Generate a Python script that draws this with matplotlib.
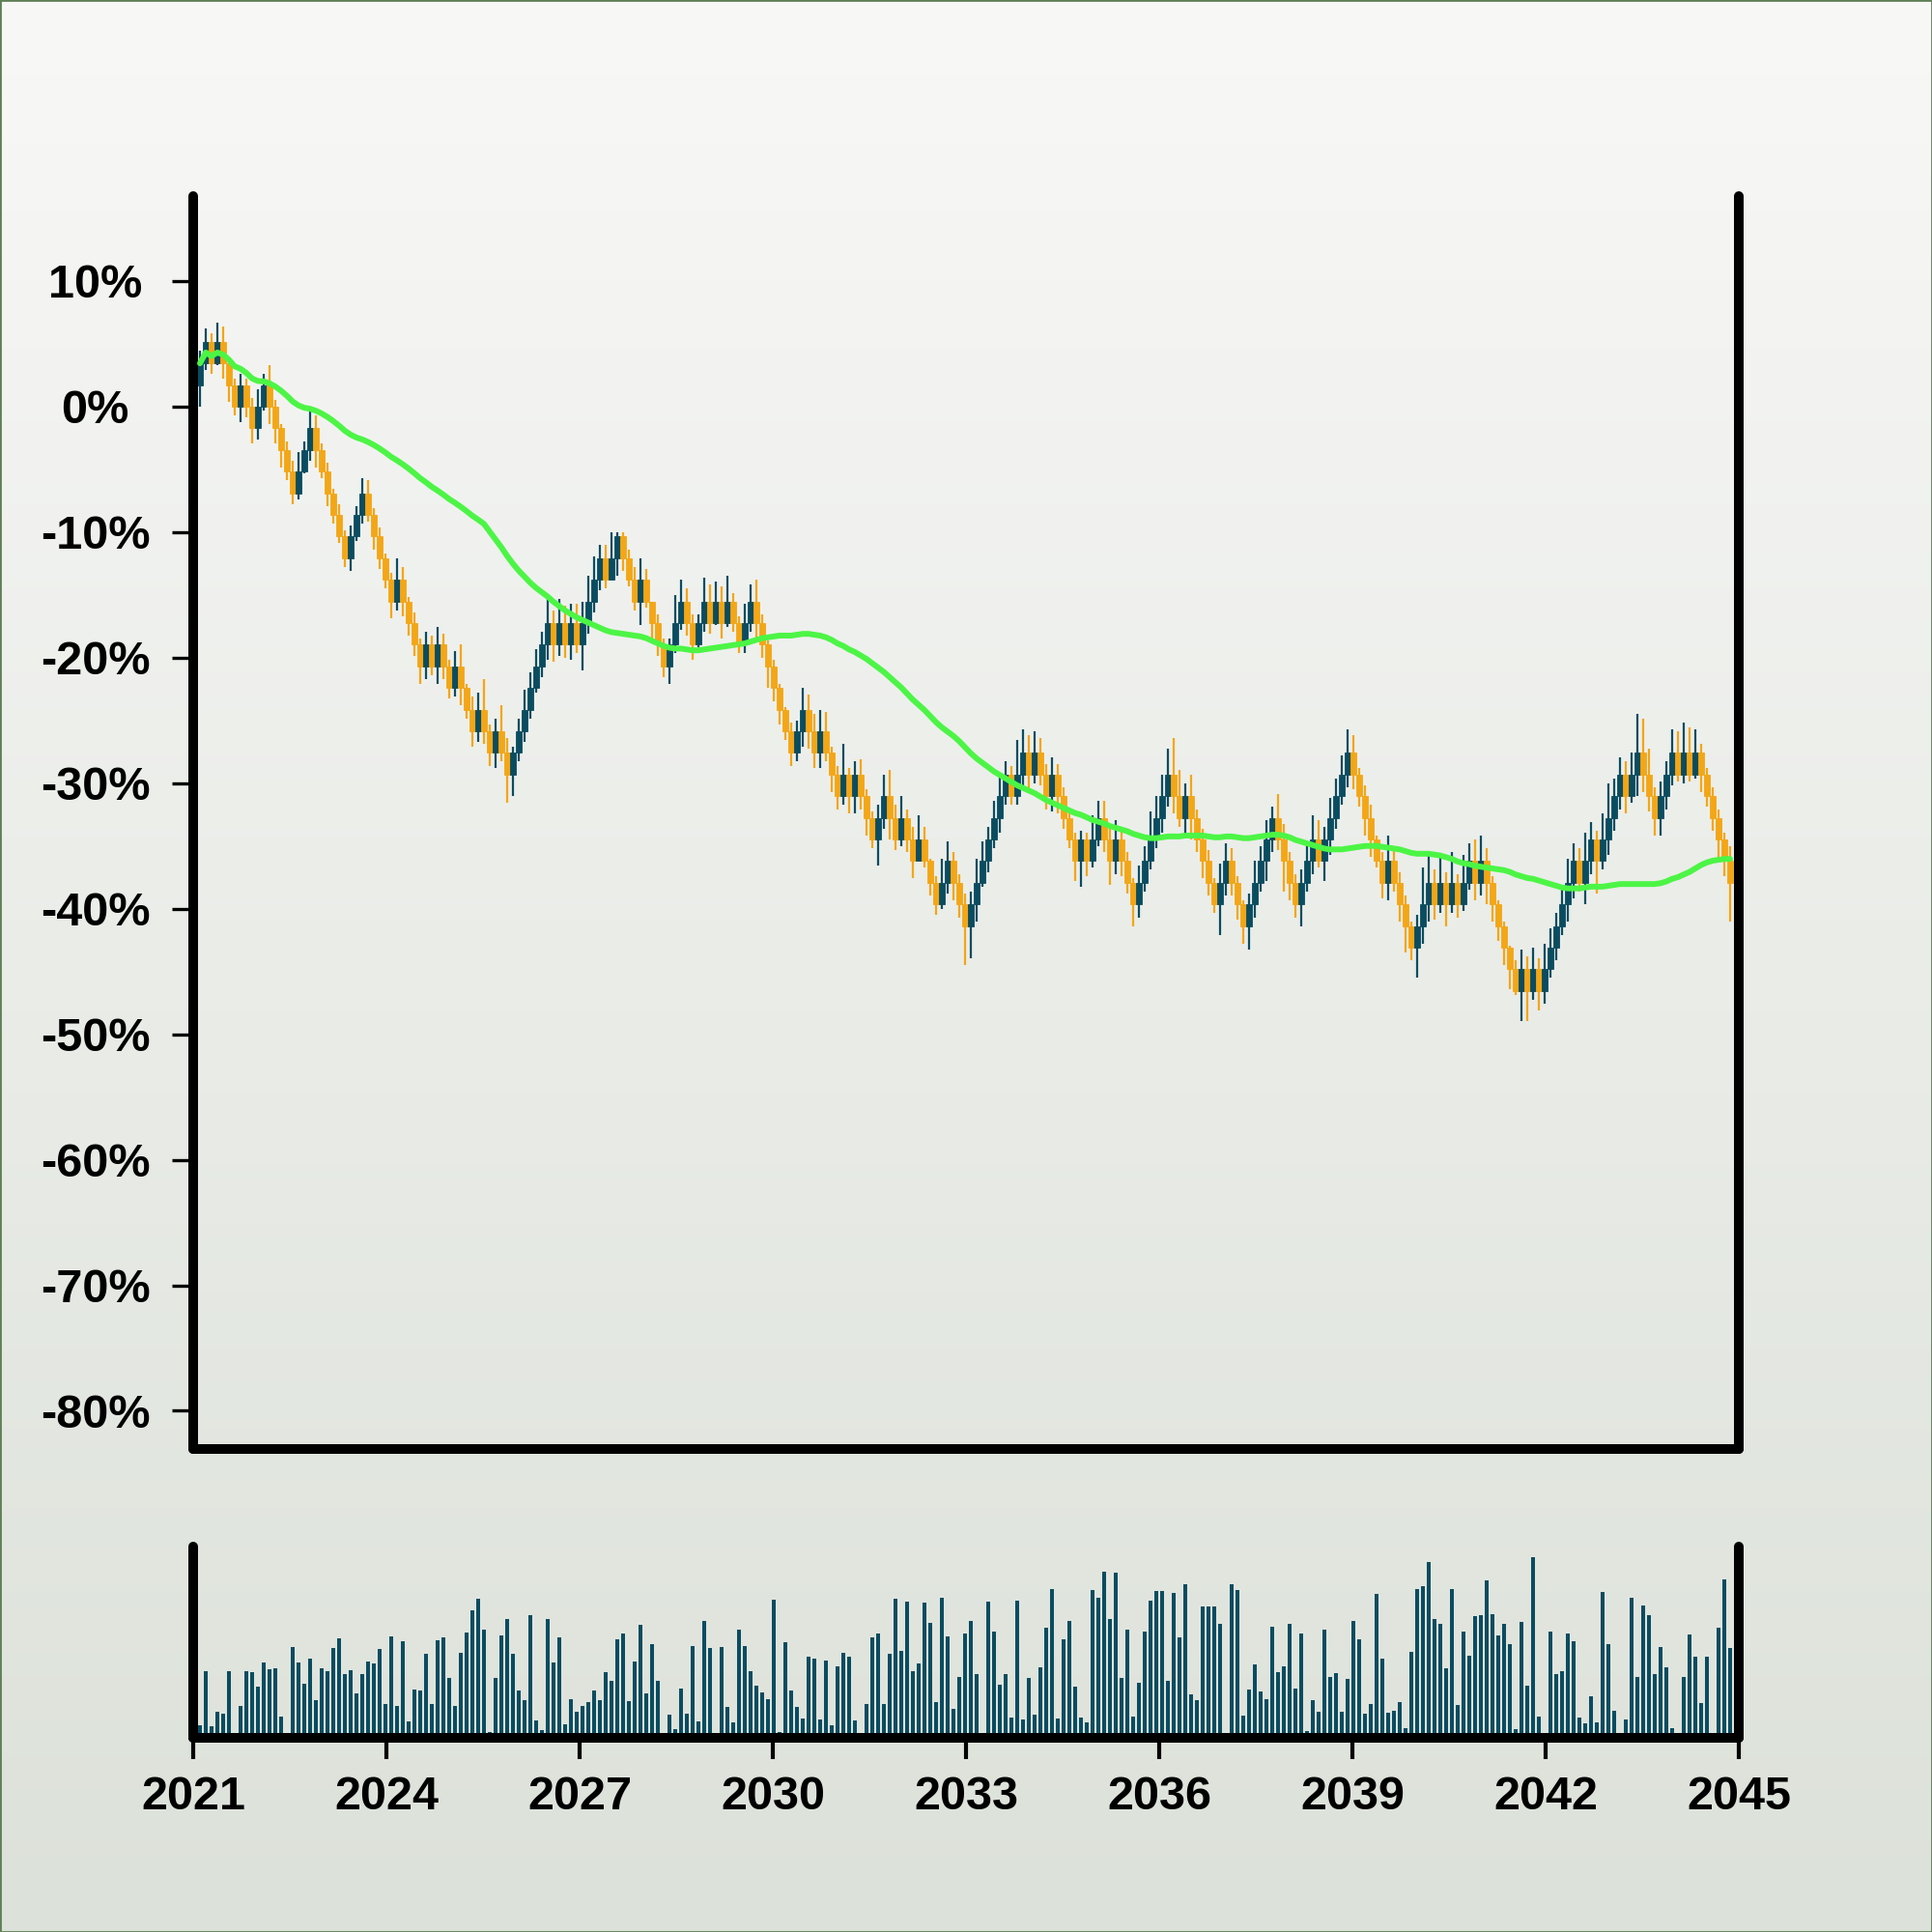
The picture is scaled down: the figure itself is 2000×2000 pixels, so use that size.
import numpy as np
import pandas as pd
import matplotlib
matplotlib.use("Agg")
import matplotlib.pyplot as plt
from matplotlib.patches import Rectangle
from matplotlib.colors import LinearSegmentedColormap

# ---------------- data (prices; 0% reference = BASE_PRICE) ----------------
BASE_PRICE = 58.0

opens = [59,60,61,60,61,60,59,58,59,58, 57,58,59,58,57,56,55,54,55,56, 57,56,55,54,53,52,51,52,53,54,
         53,52,51,50,49,50,49,48,47,46, 47,46,47,46,45,46,45,44,43,44, 43,42,43,
         42,41,42,43,44,45,46,47,48,47, 48,47,48,47,48,49,50,51,50,51, 52,51,50,49,50,49,48,47,46,47,
         48,49,48,47,48,49,48,49,48,49, 48,47,48,49,48,47,46,45,44,43, 42,43,44,
         43,42,43,42,41,40,41,40,41,40, 39,38,39,40,39,38,39,38,37,38, 37,36,35,36,37,36,35,34,35,36,
         37,38,39,40,41,40,41,42,41,42, 41,40,41,40,39,38,37,38,37,38, 39,38,37,
         38,37,36,35,36,37,38,39,40,41, 40,39,40,39,38,37,36,35,36,37, 36,35,34,35,36,37,38,39,38,37,
         36,35,36,37,38,37,38,39,40,41, 42,41,40,39,38,37,36,37,36,35, 34,33,34,
         35,36,35,36,35,36,35,36,37,36, 37,36,35,34,33,32,31,32,31,32, 31,32,33,34,35,36,37,36,37,38,
         37,38,39,40,41,40,41,42,41,40, 39,40,41,42,41,42,41,42,41,40, 39,38,37]

closes = [60,61,60,61,60,59,58,59,58,57, 58,59,58,57,56,55,54,55,56,57, 56,55,54,53,52,51,52,53,54,53,
          52,51,50,49,50,49,48,47,46,47, 46,47,46,45,46,45,44,43,44,43, 42,43,42,
          41,42,43,44,45,46,47,48,47,48, 47,48,47,48,49,50,51,50,51,52, 51,50,49,50,49,48,47,46,47,48,
          49,48,47,48,49,48,49,48,49,48, 47,48,49,48,47,46,45,44,43,42, 43,44,43,
          42,43,42,41,40,41,40,41,40,39, 38,39,40,39,38,39,38,37,38,37, 36,35,36,37,36,35,34,35,36,37,
          38,39,40,41,40,41,42,41,42,41, 40,41,40,39,38,37,38,37,38,39, 38,37,38,
          37,36,35,36,37,38,39,40,41,40, 39,40,39,38,37,36,35,36,37,36, 35,34,35,36,37,38,39,38,37,36,
          35,36,37,38,37,38,39,40,41,42, 41,40,39,38,37,36,37,36,35,34, 33,34,35,
          36,35,36,35,36,35,36,37,36,37, 36,35,34,33,32,31,32,31,32,31, 32,33,34,35,36,37,36,37,38,37,
          38,39,40,41,40,41,42,41,40,39, 40,41,42,41,42,41,42,41,40,39, 38,37,36]

highs = [60.6,61.6,61.4,61.9,61.7,60.2,59.3,59.5,59.3,58.4, 58.8,59.5,59.9,58.3,57.2,56.4,55.5,55.9,56.4,57.8,
         57.6,56.3,55.4,54.2,53.5,52.3,52.5,53.4,54.7,54.6, 53.3,52.4,51.2,50.3,51.0,50.6,49.2,48.5,47.3,47.6,
         47.4,47.8,47.5,46.3,46.7,47.0,45.2,44.6,44.8,45.4, 43.3,43.6,44.2,
         42.7,42.3,43.6,44.9,45.7,46.8,47.6,49.2,48.6,49.1, 48.8,48.9,48.9,49.0,50.2,51.1,51.6,51.6,52.2,52.2,
         52.2,51.4,50.6,51.0,50.5,49.0,48.4,47.3,47.3,49.3, 50.0,49.6,48.4,48.4,50.1,49.8,49.9,49.7,50.2,49.4,
         48.3,48.9,49.8,50.0,48.4,47.2,46.3,45.2,44.1,43.4, 43.5,45.0,44.7,
         43.8,44.0,43.9,42.3,41.4,42.4,41.3,41.6,41.7,40.3, 39.3,39.6,41.0,41.2,39.6,40.0,39.4,38.6,39.1,38.6,
         37.1,36.3,37.1,37.9,37.4,36.4,35.5,35.6,37.1,37.9, 38.6,39.8,41.0,41.6,41.4,42.6,43.1,42.8,43.0,42.7,
         41.5,41.8,41.5,40.4,39.2,38.3,38.4,38.3,39.1,39.8, 39.8,38.6,38.9,
         38.6,37.4,36.2,36.8,37.7,39.3,40.0,41.0,42.2,42.7, 41.2,40.6,41.0,39.4,38.5,37.5,36.2,36.9,37.8,37.6,
         36.3,35.2,35.5,37.0,37.7,38.9,39.5,40.1,38.7,37.4, 36.4,36.6,37.9,39.1,38.9,38.6,39.9,40.8,41.9,43.1,
         42.8,41.3,40.5,39.6,38.2,37.4,38.2,37.7,36.5,35.4, 34.2,34.5,36.7,
         37.3,36.6,37.2,36.5,37.4,36.4,37.3,37.8,38.0,38.2, 37.6,36.3,35.2,34.2,33.1,32.4,32.9,32.6,33.0,32.5,
         33.2,33.9,34.6,35.8,37.1,37.8,37.6,38.3,38.8,38.4, 39.2,40.6,40.8,41.8,41.6,42.0,43.8,43.6,42.2,40.4,
         40.7,41.6,43.1,43.0,43.4,43.2,43.1,42.4,41.3,40.4, 39.4,38.3,37.7]

lows = [58.0,59.7,59.5,59.9,59.3,58.2,57.6,57.3,57.5,56.3, 56.5,57.8,57.2,56.3,55.2,54.6,53.5,53.7,54.9,55.5,
        55.2,54.7,53.4,52.6,51.7,50.6,50.4,51.8,52.6,52.7, 51.4,50.5,49.6,48.2,48.6,48.3,47.4,46.5,45.2,45.4,
        45.6,45.2,45.4,44.5,44.6,44.2,43.6,42.3,42.5,42.4, 41.4,41.3,41.6,
        39.7,40.0,41.6,42.5,43.6,44.8,45.5,46.3,46.2,46.5, 46.4,46.3,46.6,45.8,47.5,48.5,49.5,49.6,50.0,50.2,
        50.4,49.7,48.6,47.9,48.7,47.3,46.5,45.5,45.2,46.6, 47.7,47.4,46.3,46.9,47.6,47.5,47.9,47.3,47.8,47.6,
        46.6,46.6,47.6,47.3,46.4,45.0,44.4,43.3,42.6,41.4, 41.6,42.3,42.2,
        41.3,41.3,41.6,40.2,39.4,39.6,39.2,39.2,39.4,38.2, 37.6,36.8,38.5,38.0,37.5,37.7,37.4,36.2,37.0,36.7,
        35.4,34.5,34.8,35.5,35.2,34.4,32.2,32.5,34.2,35.8, 36.5,37.6,38.3,39.6,39.6,39.6,40.5,40.3,40.6,40.5,
        39.4,39.3,39.2,38.5,37.6,36.1,35.8,36.3,36.7,37.7, 37.4,35.9,36.4,
        36.3,35.5,34.0,34.4,35.6,36.6,37.6,38.3,39.5,39.2, 38.6,38.2,38.0,37.4,36.2,35.4,34.6,33.6,35.4,35.4,
        34.3,33.2,32.9,34.4,35.6,36.1,37.4,37.5,35.6,35.2, 34.4,34.0,35.6,36.4,36.7,36.1,37.3,38.5,39.6,40.4,
        40.3,39.5,38.2,37.2,36.7,35.3,35.2,35.6,34.2,32.8, 32.4,31.6,33.2,
        34.2,34.3,34.6,34.0,34.6,34.4,34.7,35.7,35.2,35.4, 35.0,34.2,33.3,32.2,31.1,30.8,29.6,29.6,30.6,30.1,
        30.4,31.6,32.4,33.6,34.2,35.3,35.6,35.0,36.4,35.5, 36.6,37.3,38.4,39.4,39.2,39.7,40.0,40.2,39.3,38.2,
        38.2,39.4,40.5,40.7,40.6,40.7,40.8,40.2,39.5,38.4, 37.0,36.3,34.2]

volumes = [24,192,22,67,60,192,0,84,192,188, 144,218,198,202,52,0,266,220,153,231,
           102,202,192,263,293,182,196,123,182,222, 217,260,90,300,85,284,37,136,132,247,
           91,289,296,172,83,250,311,382,416,321, 4,171,302,354,246,131,103,367,38,8,
           354,218,296,28,106,67,84,97,131,101, 189,161,291,308,99,222,336,123,275,161,
           0,56,12,139,59,271,36,347,265,0, 266,81,32,321,270,191,148,126,105,414,
           3,281,131,80,44,236,231,41,225,25, 206,250,237,38,0,90,298,308,90,245,
           417,255,408,192,215,405,343,97,419,300, 76,174,310,348,
           182,0,409,315,150,182,47,410,42,170, 57,205,327,446,45,290,347,144,49,32,
           443,420,501,353,498,172,320,50,155,314, 412,440,441,163,435,296,463,121,102,392,
           392,392,338,0,462,443,54,134,212,130, 104,330,188,206,340,138,308,6,101,65,
           321,175,185,66,167,347,290,59,90,432, 230,62,70,95,14,251,447,455,532,354,
           339,202,447,86,315,239,363,366,475,370, 304,339,276,12,344,148,545,50,0,314,
           182,192,309,286,49,31,113,32,438,275, 70,0,42,419,174,396,366,183,266,203,
           16,0,174,305,236,92,237,0,327,476, 263]

year_ticks = [2021, 2024, 2027, 2030, 2033, 2036, 2039, 2042, 2045]
pct_ticks = [10, 0, -10, -20, -30, -40, -50, -60, -70, -80]
MA_WINDOW = 50

# ---------------- styling ----------------
UP = "#0a4c60"
DOWN = "#f3a616"
MA_COLOR = "#4cf545"
plt.rcParams['font.family'] = ['Liberation Sans', 'DejaVu Sans']
plt.rcParams['axes.unicode_minus'] = False

n = len(closes)
x = np.linspace(2021.105, 2044.865, n)
period = x[1] - x[0]

def to_pct(a):
    return (np.asarray(a, dtype=float) / BASE_PRICE - 1.0) * 100.0

o, h, l, c = (to_pct(v) for v in (opens, highs, lows, closes))
is_up = c >= o
cols = np.where(is_up, UP, DOWN)
ma = pd.Series(c).rolling(MA_WINDOW, min_periods=1).mean()

fig = plt.figure(figsize=(20, 20), dpi=100)

# background gradient
bg = fig.add_axes([0, 0, 1, 1], zorder=-10)
cmap = LinearSegmentedColormap.from_list("bg", ["#f8f8f7", "#dce1d9"])
bg.imshow(np.linspace(0, 1, 256)[:, None], aspect="auto", cmap=cmap,
          extent=[0, 1, 0, 1], origin="upper")
bg.axis("off")

SPINE_LW = 7.2
FS = 35

def style_spines(a):
    a.spines['top'].set_visible(False)
    for s in ('left', 'right', 'bottom'):
        a.spines[s].set_linewidth(SPINE_LW)
        a.spines[s].set_color('black')
        a.spines[s].set_capstyle('round')

# main price axes
ax = fig.add_axes([0.1, 0.25, 0.8, 0.6485])
ax.set_facecolor('none')
ax.vlines(x, l, h, colors=cols, linewidth=1.6, zorder=2)
ax.bar(x, np.abs(c - o), bottom=np.minimum(o, c), width=period * 0.95,
       color=cols, edgecolor=cols, linewidth=0.6, zorder=2.5)
ax.plot(x, ma, color=MA_COLOR, lw=4.3, zorder=3, solid_capstyle='round')
ax.set_xlim(2021, 2045)
ax.set_ylim(-83.04, 16.77)
style_spines(ax)
ax.set_yticks(pct_ticks)
ax.set_yticklabels([f"{v}%" for v in pct_ticks], fontweight='bold')
ax.tick_params(axis='y', direction='out', length=16, width=2.4, pad=57,
               labelsize=FS, colors='black', right=False)
for lab in ax.get_yticklabels():
    lab.set_horizontalalignment('center')
ax.tick_params(axis='x', bottom=False, labelbottom=False)

# volume axes
axv = fig.add_axes([0.1, 0.1005, 0.8, 0.099])
axv.set_facecolor('none')
axv.bar(x, volumes, width=period * 0.6, color=UP, linewidth=0, zorder=2)
axv.set_xlim(2021, 2045)
axv.set_ylim(-15, 579)
style_spines(axv)
axv.set_yticks([])
axv.set_xticks(year_ticks)
axv.set_xticklabels([str(y) for y in year_ticks], fontweight='bold')
axv.tick_params(axis='x', direction='out', length=16, width=3, pad=12,
                labelsize=FS, colors='black')

fig.patches.append(Rectangle((0, 0), 1, 1, transform=fig.transFigure, fill=False,
                             edgecolor='#5f7f55', linewidth=2, zorder=100))

fig.savefig("out.png", dpi=100)
